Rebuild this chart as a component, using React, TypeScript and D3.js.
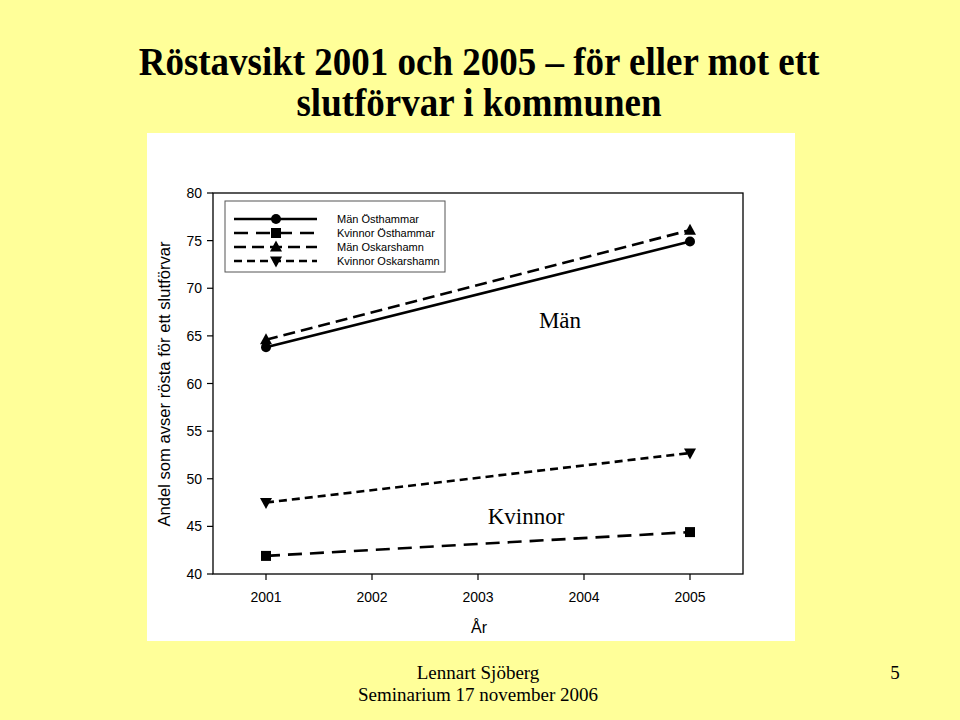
import React from "react";
import * as d3 from "d3";

const years = [2001, 2005];
const manOsthammar = [63.8, 74.9];
const kvinnorOsthammar = [41.9, 44.4];
const manOskarshamn = [64.6, 76.1];
const kvinnorOskarshamn = [47.5, 52.7];
const seriesNames = ["Män Östhammar", "Kvinnor Östhammar", "Män Oskarshamn", "Kvinnor Oskarshamn"];
const yTicks = [40, 45, 50, 55, 60, 65, 70, 75, 80];
const xTicks = [2001, 2002, 2003, 2004, 2005];

const seriesValues = [manOsthammar, kvinnorOsthammar, manOskarshamn, kvinnorOskarshamn];
const dashes = ["none", "14,8", "12,6", "8,5"];
const markers = ["circle", "square", "triUp", "triDown"];

function Marker({ type, x, y }: { type: string; x: number; y: number }) {
  const s = 5.5;
  if (type === "circle") return <circle cx={x} cy={y} r={5} fill="#000" />;
  if (type === "square") return <rect x={x - 5} y={y - 5} width={10} height={10} fill="#000" />;
  if (type === "triUp")
    return <path d={`M${x},${y - s - 1} L${x + s + 0.5},${y + s - 1} L${x - s - 0.5},${y + s - 1} Z`} fill="#000" />;
  return <path d={`M${x},${y + s + 1} L${x + s + 0.5},${y - s + 1} L${x - s - 0.5},${y - s + 1} Z`} fill="#000" />;
}

export default function App() {
  const left = 213, right = 743, top = 193, bottom = 574;
  const x = d3.scaleLinear().domain([2000.5, 2005.5]).range([left, right]);
  const y = d3.scaleLinear().domain([40, 80]).range([bottom, top]);
  const line = d3
    .line<[number, number]>()
    .x((d) => x(d[0]))
    .y((d) => y(d[1]));
  const sans = "Arial, 'Liberation Sans', sans-serif";
  const serif = "'Times New Roman', 'Liberation Serif', serif";
  const legendY = [219, 233, 247, 261];
  return (
    <svg width={960} height={720} style={{ position: "absolute", left: 0, top: 0 }}>
      <rect x={0} y={0} width={960} height={720} fill="#FFFF99" />
      <g transform="translate(479,75) scale(1,1.1)">
        <text x={0} y={0} textAnchor="middle" fontFamily={serif} fontWeight="bold" fontSize={37}>
          Röstavsikt 2001 och 2005 – för eller mot ett
        </text>
      </g>
      <g transform="translate(479,116) scale(1,1.1)">
        <text x={0} y={0} textAnchor="middle" fontFamily={serif} fontWeight="bold" fontSize={37}>
          slutförvar i kommunen
        </text>
      </g>
      <rect x={147} y={133} width={648} height={508} fill="#fff" />
      <rect x={left} y={top} width={right - left} height={bottom - top} fill="none" stroke="#000" strokeWidth={1.3} />
      {yTicks.map((t) => (
        <g key={t}>
          <line x1={left - 6} x2={left} y1={y(t)} y2={y(t)} stroke="#000" strokeWidth={1.2} />
          <text x={202} y={y(t) + 5} textAnchor="end" fontFamily={sans} fontSize={14}>
            {t}
          </text>
        </g>
      ))}
      {xTicks.map((t) => (
        <g key={t}>
          <line x1={x(t)} x2={x(t)} y1={bottom} y2={bottom + 6} stroke="#000" strokeWidth={1.2} />
          <text x={x(t)} y={602} textAnchor="middle" fontFamily={sans} fontSize={14}>
            {t}
          </text>
        </g>
      ))}
      <text x={479} y={633} textAnchor="middle" fontFamily={sans} fontSize={16}>
        År
      </text>
      <text
        transform={`translate(170,384) rotate(-90)`}
        textAnchor="middle"
        fontFamily={sans}
        fontSize={16.6}
      >
        Andel som avser rösta för ett slutförvar
      </text>
      {seriesValues.map((vals, i) => {
        const pts = years.map((yr, j) => [yr, vals[j]] as [number, number]);
        return (
          <g key={i}>
            <path d={line(pts) || ""} fill="none" stroke="#000" strokeWidth={2.6} strokeDasharray={dashes[i]} />
            {pts.map((p, j) => (
              <Marker key={j} type={markers[i]} x={x(p[0])} y={y(p[1])} />
            ))}
          </g>
        );
      })}
      <rect x={225} y={201} width={220} height={71} fill="#fff" stroke="#555" strokeWidth={1} />
      {seriesNames.map((name, i) => (
        <g key={name}>
          <line x1={234} x2={317} y1={legendY[i]} y2={legendY[i]} stroke="#000" strokeWidth={2.6} strokeDasharray={dashes[i]} />
          <Marker type={markers[i]} x={276} y={legendY[i]} />
          <text x={337} y={legendY[i] + 4} fontFamily={sans} fontSize={11}>
            {name}
          </text>
        </g>
      ))}
      <text x={560} y={328} textAnchor="middle" fontFamily={serif} fontSize={23}>
        Män
      </text>
      <text x={526} y={524} textAnchor="middle" fontFamily={serif} fontSize={23}>
        Kvinnor
      </text>
      <text x={478} y={679} textAnchor="middle" fontFamily={serif} fontSize={19}>
        Lennart Sjöberg
      </text>
      <text x={478} y={701} textAnchor="middle" fontFamily={serif} fontSize={19}>
        Seminarium 17 november 2006
      </text>
      <text x={895} y={679} textAnchor="middle" fontFamily={serif} fontSize={19}>
        5
      </text>
    </svg>
  );
}
